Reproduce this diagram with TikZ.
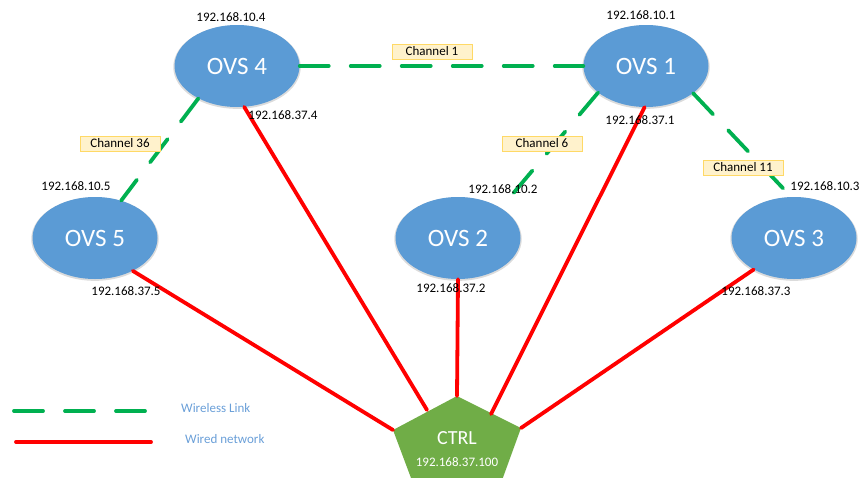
\documentclass[tikz,border=0pt]{standalone}
\usepackage{fontspec}
\setmainfont{Carlito}
\usetikzlibrary{shapes.geometric,shadows}
\definecolor{ovsblue}{HTML}{5B9BD5}
\definecolor{linkgreen}{HTML}{00B050}
\definecolor{wirered}{HTML}{FF0000}
\definecolor{ctrlgreen}{HTML}{70AD47}
\definecolor{chanfill}{HTML}{FFF2CC}
\definecolor{chanline}{HTML}{FFD966}
\definecolor{legendtext}{HTML}{6A9FD8}

\begin{document}
\begin{tikzpicture}[x=1pt,y=-1pt,
    ovs/.style={
% The shape:
ellipse,
% The size:
minimum width=125pt,
minimum height=82pt,
% The fill:
fill=ovsblue,
drop shadow={shadow xshift=0pt,shadow yshift=-1pt,shadow scale=1.02,
  fill=black!40,opacity=.35},
% The text:
text=white, font=\fontsize{25}{25}\selectfont,
},
    ip/.style={
font=\fontsize{13}{13}\selectfont, inner sep=0pt,
},
    channel/.style={
% The shape:
rectangle,
% The size:
minimum width=80pt,
minimum height=15pt,
inner sep=0pt,
% The border:
draw=chanline, fill=chanfill, line width=0.8pt,
font=\fontsize{13}{13}\selectfont,
},
    wireless/.style={
linkgreen, line width=3.8pt, line cap=round,
dash pattern=on 29pt off 22pt,
},
    wired/.style={
wirered, line width=3.8pt, line cap=round,
},
]
  \useasboundingbox (0,0) rectangle (861,477);
  \clip (0,0) rectangle (861,477);

  \node[ovs] (ovs4) at (237, 66)  {OVS 4};
  \node[ovs] (ovs1) at (646, 66)  {OVS 1};
  \node[ovs] (ovs5) at (95, 238)  {OVS 5};
  \node[ovs] (ovs2) at (458, 238) {OVS 2};
  \node[ovs] (ovs3) at (794, 238) {OVS 3};

  % controller
  \coordinate (ct) at (457,396);
  \coordinate (cl) at (393,430);
  \coordinate (cr) at (521,428);
  \coordinate (cbl) at (417,494);
  \coordinate (cbr) at (497,494);
  \fill[ctrlgreen] (ct) -- (cr) -- (cbr) -- (cbl) -- (cl) -- cycle;
  \coordinate (ct4) at (427,410);
  \coordinate (ct1) at (491,414);
  \node[text=white,font=\fontsize{20}{20}\selectfont] (ctrl) at (457, 438) {CTRL};
  \node[ip,text=white] (ctrlip) at (457, 462) {192.168.37.100};

  % wireless links
  \draw[wireless] (ovs4) -- (ovs1);
  \draw[wireless] (ovs4.220) -- (ovs5.55);
  \draw[wireless] (ovs1.209) -- (ovs2.35);
  \draw[wireless] (ovs1.330) -- (ovs3.94);

  % wired links
  \draw[wired] (ovs5.319) -- (cl);
  \draw[wired] (ovs4.280) -- (ct4);
  \draw[wired] (ovs2.south) -- (ct);
  \draw[wired] (ovs1.268) -- (ct1);
  \draw[wired] (ovs3.218) -- (cr);

  \node[channel] (ch1)  at (432, 51.5)  {Channel 1};
  \node[channel] (ch36) at (120, 143.5) {Channel 36};
  \node[channel] (ch6)  at (542, 143.5) {Channel 6};
  \node[channel] (ch11) at (743, 167.5) {Channel 11};

  \node[ip] (ip4a) at (231, 17)  {192.168.10.4};
  \node[ip] (ip4b) at (283, 115) {192.168.37.4};
  \node[ip] (ip1a) at (641, 15)  {192.168.10.1};
  \node[ip] (ip1b) at (640, 120) {192.168.37.1};
  \node[ip] (ip5a) at (76, 186)  {192.168.10.5};
  \node[ip] (ip5b) at (126, 291) {192.168.37.5};
  \node[ip] (ip2a) at (503, 189) {192.168.10.2};
  \node[ip] (ip2b) at (451, 288) {192.168.37.2};
  \node[ip] (ip3a) at (825, 186) {192.168.10.3};
  \node[ip] (ip3b) at (756, 291) {192.168.37.3};

  % legend
  \coordinate (lw1) at (14, 411);
  \coordinate (lw2) at (150, 411);
  \coordinate (lr1) at (16, 442);
  \coordinate (lr2) at (151, 442);
  \draw[wireless] (lw1) -- (lw2);
  \draw[wired] (lr1) -- (lr2);
  \node[ip,text=legendtext,anchor=west] (lwtext) at (181, 408) {Wireless Link};
  \node[ip,text=legendtext,anchor=west] (lrtext) at (185, 439) {Wired network};

\end{tikzpicture}
\end{document}
